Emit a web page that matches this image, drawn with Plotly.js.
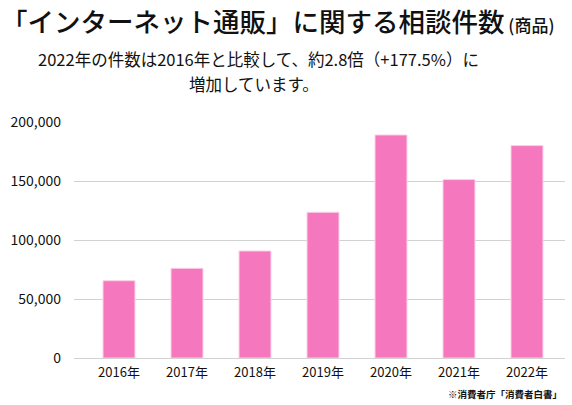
<!DOCTYPE html>
<html>
<head>
<meta charset="utf-8">
<script src="https://cdn.plot.ly/plotly-3.0.1.min.js"></script>
<style>
html,body{margin:0;padding:0;background:#fff;}
#chart{width:572px;height:405px;}
</style>
</head>
<body>
<div id="chart"></div>
<script>
const categories = ["2016年","2017年","2018年","2019年","2020年","2021年","2022年"];
const counts = [65500, 76000, 90700, 123500, 189000, 151200, 180000];
const yTickVals = [0, 50000, 100000, 150000, 200000];
const yTickText = ["0", "50,000", "100,000", "150,000", "200,000"];

const titleMain = "「インターネット通販」に関する相談件数";
const titleSub = "(商品)";
const subtitleLine1 = "2022年の件数は2016年と比較して、約2.8倍（+177.5%）に";
const subtitleLine2 = "増加しています。";
const sourceNote = "※消費者庁「消費者白書」";

const FONT = '"Noto Sans CJK JP", "Noto Sans", sans-serif';
const W = 572, H = 405;
const M = {l: 74, r: 7, t: 122, b: 47};
const pw = W - M.l - M.r, ph = H - M.t - M.b;
const px = x => (x - M.l) / pw;
const py = y => (H - M.b - y) / ph;

const trace = {
  type: 'bar',
  x: categories,
  y: counts,
  width: 0.47,
  marker: {color: '#f577bd', line: {color: '#fbd0e8', width: 1}},
  hoverinfo: 'skip'
};

const layout = {
  width: W, height: H,
  margin: M,
  paper_bgcolor: '#fff', plot_bgcolor: '#fff',
  font: {family: FONT, color: '#111', size: 13},
  showlegend: false,
  xaxis: {
    type: 'category',
    range: [-0.662, 6.559],
    showgrid: false, zeroline: false, showline: false,
    ticks: '', tickfont: {size: 13, color: '#111'},
    ticklabelstandoff: 5,
    fixedrange: true
  },
  yaxis: {
    range: [0, 200000],
    tickvals: yTickVals, ticktext: yTickText,
    showgrid: true, gridcolor: '#d2d2d2', gridwidth: 1,
    zeroline: true, zerolinecolor: '#d2d2d2', zerolinewidth: 1,
    showline: false, ticks: '',
    ticklabelstandoff: 12,
    tickfont: {size: 14, color: '#111'},
    fixedrange: true
  },
  annotations: [
    {
      xref: 'paper', yref: 'paper', x: px(0), y: py(0),
      xanchor: 'left', yanchor: 'top', showarrow: false,
      borderpad: 0,
      text: titleMain + '<span style="font-size:17px"> ' + titleSub + '</span>',
      font: {family: FONT, size: 26.5, color: '#111', weight: 500}
    },
    {
      xref: 'paper', yref: 'paper', x: px(258), y: py(59),
      xanchor: 'center', yanchor: 'middle', showarrow: false,
      text: subtitleLine1,
      font: {family: FONT, size: 16.5, color: '#111'}
    },
    {
      xref: 'paper', yref: 'paper', x: px(254), y: py(84),
      xanchor: 'center', yanchor: 'middle', showarrow: false,
      text: subtitleLine2,
      font: {family: FONT, size: 16.5, color: '#111'}
    },
    {
      xref: 'paper', yref: 'paper', x: px(564), y: py(394),
      xanchor: 'right', yanchor: 'middle', showarrow: false,
      text: sourceNote,
      font: {family: FONT, size: 9.5, color: '#111', weight: 600}
    }
  ]
};

Plotly.newPlot('chart', [trace], layout, {displayModeBar: false, staticPlot: true});
</script>
</body>
</html>
